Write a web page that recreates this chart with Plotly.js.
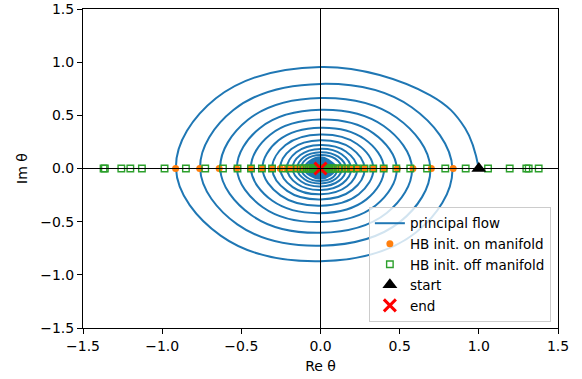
<!DOCTYPE html>
<html>
<head>
<meta charset="utf-8">
<script src="https://cdn.plot.ly/plotly-3.0.1.min.js"></script>
<style>html,body{margin:0;padding:0;background:#fff;}#chart{width:582px;height:379px;}</style>
</head>
<body>
<div id="chart"></div>
<script>
// Principal flow: outer turns, read at every 45 degrees (extra point near the start)
var flowRe = [
  1.0000, 0.9134, 0.6911, 0, -0.6603, -0.9127, -0.6308, 0, 0.6026,
  0.8330, 0.5757, 0, -0.5500, -0.7603, -0.5255, 0, 0.5020,
  0.6939, 0.4796, 0, -0.4582, -0.6333, -0.4377, 0, 0.4182,
  0.5780, 0.3995, 0, -0.3817, -0.5275, -0.3646, 0, 0.3483,
  0.4815, 0.3328, 0, -0.3179, -0.4394, -0.3037, 0, 0.2902,
  0.4011, 0.2772, 0, -0.2648, -0.3661, -0.2530, 0, 0.2417,
  0.3341, 0.2309, 0, -0.2206, -0.3049, -0.2108, 0, 0.2013,
  0.2783, 0.1924, 0, -0.1838, -0.2540, -0.1756, 0, 0.1677,
  0.2318, 0.1602, 0, -0.1531, -0.2116, -0.1462, 0, 0.1397,
  0.1931, 0.1335, 0, -0.1275, -0.1763, -0.1218, 0, 0.1164,
  0.1609, 0.1112, 0, -0.1062, -0.1468, -0.1015, 0, 0.0969,
  0.1340, 0.0926, 0, -0.0885, -0.1223, -0.0845, 0, 0.0808,
  0.1116
];
var flowIm = [
  0, 0.3783, 0.6911, 0.9553, 0.6603, 0, -0.6308, -0.8719, -0.6026,
  0, 0.5757, 0.7958, 0.5500, 0, -0.5255, -0.7263, -0.5020,
  0, 0.4796, 0.6629, 0.4582, 0, -0.4377, -0.6050, -0.4182,
  0, 0.3995, 0.5522, 0.3817, 0, -0.3646, -0.5040, -0.3483,
  0, 0.3328, 0.4600, 0.3179, 0, -0.3037, -0.4198, -0.2902,
  0, 0.2772, 0.3832, 0.2648, 0, -0.2530, -0.3497, -0.2417,
  0, 0.2309, 0.3192, 0.2206, 0, -0.2108, -0.2913, -0.2013,
  0, 0.1924, 0.2659, 0.1838, 0, -0.1756, -0.2427, -0.1677,
  0, 0.1602, 0.2215, 0.1531, 0, -0.1462, -0.2021, -0.1397,
  0, 0.1335, 0.1845, 0.1275, 0, -0.1218, -0.1684, -0.1164,
  0, 0.1112, 0.1537, 0.1062, 0, -0.1015, -0.1403, -0.0969,
  0, 0.0926, 0.1280, 0.0885, 0, -0.0845, -0.1168, -0.0808,
  0
];
// Principal flow: inner turns, read at every 90 degrees
var coreRe = [
  0.1116, 0, -0.1019, 0,
  0.0930, 0, -0.0849, 0,
  0.0775, 0, -0.0707, 0,
  0.0645, 0, -0.0589, 0,
  0.0537, 0, -0.0491, 0,
  0.0448, 0, -0.0409, 0,
  0.0373, 0, -0.0340, 0,
  0.0311, 0, -0.0284, 0,
  0.0259, 0, -0.0236, 0,
  0.0216, 0, -0.0197, 0,
  0.0180, 0, -0.0164, 0,
  0.0150, 0, -0.0137, 0,
  0.0125, 0, -0.0114, 0,
  0.0104
];
var coreIm = [
  0, 0.1066, 0, -0.0973,
  0, 0.0888, 0, -0.0811,
  0, 0.0740, 0, -0.0675,
  0, 0.0616, 0, -0.0563,
  0, 0.0513, 0, -0.0469,
  0, 0.0428, 0, -0.0390,
  0, 0.0356, 0, -0.0325,
  0, 0.0297, 0, -0.0271,
  0, 0.0247, 0, -0.0226,
  0, 0.0206, 0, -0.0188,
  0, 0.0172, 0, -0.0157,
  0, 0.0143, 0, -0.0130,
  0, 0.0119, 0, -0.0109,
  0
];
// HB initialisations on the manifold (real axis)
var onRe = [
  0.838, 0.700, 0.584, 0.485, 0.402, 0.335, 0.279, 0.232, 0.193, 0.161, 0.134, 0.112, 0.093, 0.078, 0.065, 0.054,
  -0.915, -0.763, -0.640, -0.530, -0.441, -0.367, -0.306, -0.254, -0.213, -0.177, -0.147, -0.123, -0.102, -0.085, -0.071, -0.059
];
var onIm = [
  0,0,0,0,0,0,0,0,0,0,0,0,0,0,0,0,
  0,0,0,0,0,0,0,0,0,0,0,0,0,0,0,0
];
// HB initialisations off the manifold (real axis)
var offRe = [
  1.378, 1.315, 1.300, 1.195, 1.058, 0.917, 0.788, 0.673, 0.567, 0.479, 0.399, 0.333, 0.278, 0.230, 0.193, 0.160,
  0.134, 0.112, 0.093, 0.078, 0.065, 0.054, 0.045, 0.037, 0.031, 0.026, 0.021, 0.017, 0.013, 0.010, 0.007, 0.004, 0.002,
  -1.370, -1.362, -1.258, -1.201, -1.128, -0.985, -0.850, -0.728, -0.616, -0.524, -0.439, -0.370, -0.306, -0.237, -0.191, -0.149,
  -0.125, -0.105, -0.088, -0.073, -0.061, -0.051, -0.042, -0.035, -0.029, -0.024, -0.020, -0.016, -0.013, -0.010, -0.007, -0.004, -0.002
];
var offIm = offRe.map(function(){ return 0; });
var startRe = [1.0], startIm = [0.0];
var endRe = [0.0], endIm = [0.0];
var axisTicks = [-1.5, -1.0, -0.5, 0.0, 0.5, 1.0, 1.5];

var traces = [
  {x: flowRe, y: flowIm, type: 'scatter', mode: 'lines', name: 'principal flow',
   line: {color: '#1f77b4', width: 2, shape: 'spline', smoothing: 1.1, simplify: false}},
  {x: coreRe, y: coreIm, type: 'scatter', mode: 'lines', name: 'principal flow', showlegend: false,
   line: {color: '#1f77b4', width: 2, shape: 'spline', smoothing: 1.3, simplify: false}},
  {x: onRe, y: onIm, type: 'scatter', mode: 'markers', name: 'HB init. on manifold',
   marker: {symbol: 'circle', size: 7, color: '#ff7f0e', line: {width: 0}}},
  {x: offRe, y: offIm, type: 'scatter', mode: 'markers', name: 'HB init. off manifold',
   marker: {symbol: 'square-open', size: 6.5, color: '#2ca02c', line: {width: 1.4, color: '#2ca02c'}}},
  {x: startRe, y: startIm, type: 'scatter', mode: 'markers', name: 'start',
   marker: {symbol: 'triangle-up', size: 13, color: 'black'}},
  {x: endRe, y: endIm, type: 'scatter', mode: 'markers', name: 'end',
   marker: {symbol: 'x-thin', size: 12, color: 'red', line: {width: 3, color: 'red'}}}
];

var axisCommon = {
  range: [-1.5, 1.5], tickvals: axisTicks, tickformat: '.1f',
  ticks: 'outside', ticklen: 5, tickwidth: 1, tickcolor: 'black',
  showline: true, linecolor: 'black', linewidth: 1, mirror: true,
  showgrid: false, zeroline: false, tickfont: {size: 14, color: 'black'}
};
var xa = Object.assign({}, axisCommon, {title: {text: 'Re θ', font: {size: 14}, standoff: 8}});
var ya = Object.assign({}, axisCommon, {title: {text: 'Im θ', font: {size: 14}, standoff: 9}});

var layout = {
  width: 582, height: 379,
  margin: {l: 83, r: 24, t: 9, b: 51},
  paper_bgcolor: 'white', plot_bgcolor: 'white',
  font: {family: 'DejaVu Sans', size: 14, color: 'black'},
  showlegend: true,
  xaxis: xa, yaxis: ya,
  legend: {x: 0.985, y: 0.019, xanchor: 'right', yanchor: 'bottom',
           bgcolor: 'rgba(255,255,255,0.8)', bordercolor: '#cccccc', borderwidth: 1,
           tracegroupgap: 0, font: {size: 13.5}},
  shapes: [
    {type: 'line', xref: 'x', yref: 'paper', x0: 0, x1: 0, y0: 0, y1: 1, line: {color: 'black', width: 1}, layer: 'above'},
    {type: 'line', xref: 'paper', yref: 'y', x0: 0, x1: 1, y0: 0, y1: 0, line: {color: 'black', width: 1}, layer: 'above'}
  ]
};
Plotly.newPlot('chart', traces, layout, {displayModeBar: false, staticPlot: true});
</script>
</body>
</html>
